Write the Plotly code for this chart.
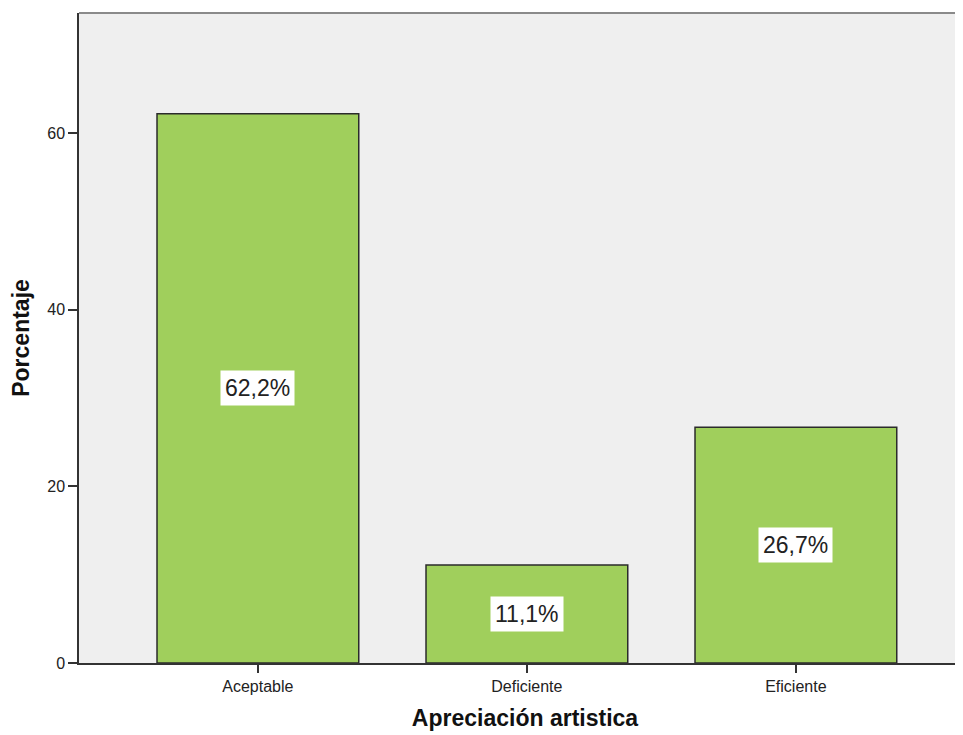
import plotly.graph_objects as go

categories = ["Aceptable", "Deficiente", "Eficiente"]
percentages = [62.2, 11.1, 26.7]
labels = ["62,2%", "11,1%", "26,7%"]
y_ticks = [0, 20, 40, 60]

fig = go.Figure()
fig.add_trace(go.Bar(
    x=list(range(len(categories))),
    y=percentages,
    width=0.75,
    marker=dict(color="#A0CF5C", line=dict(color="#2b2b2b", width=1.5)),
    hoverinfo="skip",
))

for i, (v, t) in enumerate(zip(percentages, labels)):
    fig.add_annotation(
        x=i, y=v / 2, text=t, showarrow=False,
        bgcolor="white", borderpad=4,
        font=dict(family="Liberation Sans, Arial", size=23, color="#222"),
    )

fig.add_shape(type="line", xref="paper", yref="paper", x0=0, x1=1, y0=1, y1=1,
              line=dict(color="#8a8a8a", width=2))

fig.update_layout(
    width=963, height=735,
    margin=dict(l=71, r=0, t=5, b=80),
    paper_bgcolor="white",
    plot_bgcolor="#EFEFEF",
    showlegend=False,
    font=dict(family="Liberation Sans, Arial", color="#222"),
    xaxis=dict(
        range=[-0.665, 2.651],
        tickmode="array", tickvals=list(range(len(categories))), ticktext=categories,
        ticks="outside", ticklen=8, tickcolor="#333", tickwidth=1.5,
        showline=True, linecolor="#333", linewidth=1.5,
        showgrid=False, zeroline=False,
        tickfont=dict(size=16, color="#222"),
        title=dict(text="<b>Apreciación artistica</b>", font=dict(size=23, color="#111"), standoff=16),
    ),
    yaxis=dict(
        range=[0, 73.6],
        tickmode="array", tickvals=y_ticks,
        ticks="outside", ticklen=9, tickcolor="#333", tickwidth=1.5,
        showline=True, linecolor="#333", linewidth=1.5,
        showgrid=False, zeroline=False,
        tickfont=dict(size=16, color="#222"),
        title=dict(text="<b>Porcentaje</b>", font=dict(size=23, color="#111"), standoff=14),
    ),
)

fig.write_html("out.html")
